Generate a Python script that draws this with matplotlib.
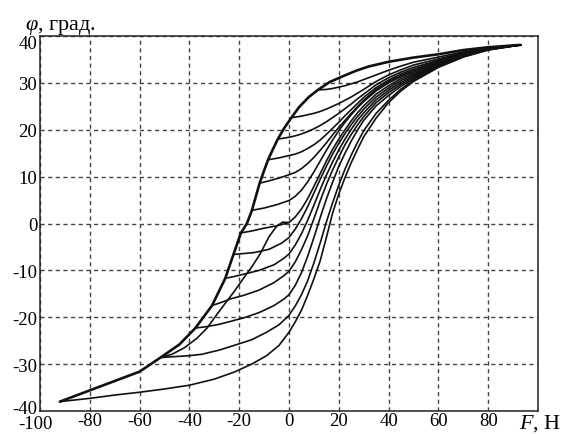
import matplotlib
matplotlib.use("Agg")
import matplotlib.pyplot as plt
from matplotlib.transforms import ScaledTranslation

plt.rcParams["font.family"] = ["Liberation Serif", "DejaVu Serif"]
plt.rcParams["mathtext.fontset"] = "custom"
plt.rcParams["mathtext.rm"] = "Liberation Serif"
plt.rcParams["mathtext.it"] = "Liberation Serif:italic"
plt.rcParams["axes.unicode_minus"] = False

# outer (descending) branch, bold
desc_x = [93, 80, 70, 60, 50, 40, 32, 27, 22, 16.4, 11.6, 8, 4, 1, -2, -4.5, -6.5, -8.4, -10.2, -11.8,
          -13.3, -14.9, -16.9, -19.3, -22.3, -25.6, -30.9, -37.6, -44, -51.6, -60, -70, -80, -92]
desc_y = [38.1, 37.6, 37.0, 36.1, 35.4, 34.5, 33.5, 32.6, 31.5, 30.2, 28.5, 27.0, 24.8, 22.6, 20.3, 18.0,
          15.8, 13.6, 11.0, 8.6, 5.8, 2.8, 0.0, -2.0, -6.6, -11.7, -17.5, -22.3, -25.8, -28.6, -31.6,
          -33.6, -35.6, -38]

# outer (ascending) branch
asc_x = [-92, -80, -70, -60, -50, -40, -30, -22, -15, -9, -4, 0, 2.5, 5, 7.5, 10, 12.5, 15, 17.5, 20,
         22.5, 25, 27.5, 30, 35, 40, 45, 50, 60, 70, 80, 93]
asc_y = [-38, -37.3, -36.6, -36.0, -35.3, -34.5, -33.2, -31.7, -30, -28.2, -26, -23.2, -21, -18.5, -15.3,
         -11.8, -8, -3, 2.2, 6.3, 9.8, 13, 15.8, 18.5, 22.5, 25.8, 28.3, 30.3, 33.3, 35.5, 37, 38.1]

# reversal curves, from the top one down
f1_x = [11.6, 15, 17.5, 20, 22.5, 25, 27.5, 30, 35, 40, 45, 50, 60, 70, 80, 93]
f1_y = [28.5, 28.6, 28.8, 29.1, 29.4, 29.8, 30.2, 30.7, 31.7, 32.7, 33.6, 34.4, 35.5, 36.6, 37.45, 38.1]

f2_x = [1, 2.5, 5, 7.5, 10, 12.5, 15, 17.5, 20, 22.5, 25, 27.5, 30, 35, 40, 45, 50, 60, 70, 80, 93]
f2_y = [22.6, 22.7, 22.9, 23.2, 23.5, 23.9, 24.4, 25.0, 25.6, 26.3, 27.0, 27.8, 28.6, 30.3, 31.7, 32.8,
        33.8, 35.1, 36.45, 37.4, 38.1]

f3_x = [-4.5, 0, 2.5, 5, 7.5, 10, 12.5, 15, 17.5, 20, 22.5, 25, 27.5, 30, 35, 40, 45, 50, 60, 70, 80, 93]
f3_y = [18.0, 18.4, 18.7, 19.1, 19.6, 20.2, 20.9, 21.7, 22.6, 23.5, 24.5, 25.5, 26.6, 27.6, 29.6, 31.1,
        32.3, 33.3, 34.8, 36.3, 37.35, 38.1]

f4_x = [-8.4, -4, 0, 2.5, 5, 7.5, 10, 12.5, 15, 17.5, 20, 22.5, 25, 27.5, 30, 35, 40, 45, 50, 60, 70, 80, 93]
f4_y = [13.6, 14.0, 14.5, 14.8, 15.3, 16.0, 16.8, 17.8, 19.0, 20.3, 21.6, 23.0, 24.3, 25.6, 26.9, 29.0,
        30.6, 31.9, 32.9, 34.6, 36.2, 37.3, 38.1]

f5_x = [-11.8, -8, -4, 0, 2.5, 5, 7.5, 10, 12.5, 15, 17.5, 20, 22.5, 25, 27.5, 30, 35, 40, 45, 50, 60, 70, 80, 93]
f5_y = [8.6, 9.1, 9.7, 10.4, 10.9, 11.7, 12.8, 14.1, 15.6, 17.2, 18.9, 20.5, 22.0, 23.5, 24.9, 26.3,
        28.6, 30.3, 31.6, 32.6, 34.4, 36.15, 37.25, 38.1]

f6_x = [-14.9, -10, -5, 0, 2.5, 5, 7.5, 10, 12.5, 15, 17.5, 20, 22.5, 25, 27.5, 30, 35, 40, 45, 50, 60, 70, 80, 93]
f6_y = [2.8, 3.3, 4.0, 4.9, 5.8, 7.1, 8.9, 11.0, 13.3, 15.6, 17.8, 19.8, 21.6, 23.2, 24.7, 26.0, 28.3,
        30.0, 31.3, 32.3, 34.2, 36.1, 37.25, 38.1]

f7_x = [-19.3, -15, -10, -5, 0, 2.5, 5, 7.5, 10, 12.5, 15, 17.5, 20, 22.5, 25, 27.5, 30, 35, 40, 45, 50, 60, 70, 80, 93]
f7_y = [-2.0, -1.6, -1.0, -0.5, 0.2, 1.4, 3.1, 5.3, 7.9, 10.6, 13.3, 15.8, 18.0, 20.0, 21.9, 23.6, 25.1,
        27.6, 29.4, 30.9, 32.0, 34.0, 36.0, 37.2, 38.1]

f8_x = [-22.3, -18, -14, -8, -3, 0, 2.5, 5, 7.5, 10, 12.5, 15, 17.5, 20, 22.5, 25, 27.5, 30, 35, 40, 45, 50, 60, 70, 80, 93]
f8_y = [-6.6, -6.4, -6.2, -5.5, -4.2, -3.0, -1.2, 1.0, 3.6, 6.5, 9.4, 12.2, 14.8, 17.1, 19.2, 21.1, 22.8,
        24.4, 27.0, 28.9, 30.5, 31.7, 33.9, 35.95, 37.2, 38.1]

f9_x = [-25.6, -22, -18, -12, -6, -2, 0, 2.5, 5, 7.5, 10, 12.5, 15, 17.5, 20, 22.5, 25, 27.5, 30, 35, 40, 45, 50, 60, 70, 80, 93]
f9_y = [-11.7, -11.3, -10.8, -10.0, -8.8, -7.4, -6.5, -4.6, -2.2, 0.7, 3.9, 7.2, 10.3, 13.1, 15.7, 18.0,
        20.1, 22.0, 23.6, 26.4, 28.4, 30.1, 31.4, 33.8, 35.9, 37.2, 38.1]

f10_x = [-30.9, -27, -23.6, -18, -12, -6, -2, 0, 2.5, 5, 7.5, 10, 12.5, 15, 17.5, 20, 22.5, 25, 27.5, 30,
         35, 40, 45, 50, 60, 70, 80, 93]
f10_y = [-17.5, -16.8, -16.1, -15.3, -14.2, -12.6, -11.1, -10.2, -8.2, -5.6, -2.6, 1.0, 4.8, 8.3, 11.4,
         14.2, 16.8, 19.0, 21.0, 22.8, 25.8, 27.9, 29.7, 31.1, 33.7, 35.8, 37.15, 38.1]

f11_x = [-37.6, -33, -28, -23.6, -18, -12, -6, -2, 0, 2.5, 5, 7.5, 10, 12.5, 15, 17.5, 20, 22.5, 25, 27.5,
         30, 35, 40, 45, 50, 60, 70, 80, 93]
f11_y = [-22.3, -22.0, -21.5, -20.9, -20.1, -19.0, -17.5, -16.1, -15.2, -13.2, -10.5, -7.0, -3.0, 1.2, 5.2,
         8.8, 12.2, 15.0, 17.6, 19.9, 22.0, 25.1, 27.3, 29.3, 30.8, 33.6, 35.7, 37.1, 38.1]

f12_x = [-51.6, -46, -40, -35, -28, -22, -15, -9, -4, 0, 2.5, 5, 7.5, 10, 12.5, 15, 17.5, 20, 22.5, 25,
         27.5, 30, 35, 40, 45, 50, 60, 70, 80, 93]
f12_y = [-28.6, -28.4, -28.2, -27.9, -27.0, -26.0, -24.8, -23.2, -21.6, -19.6, -17.6, -15.2, -12.2, -8.4,
         -4.2, 0.3, 4.4, 8.2, 11.6, 14.6, 17.3, 19.8, 23.5, 26.3, 28.7, 30.5, 33.45, 35.6, 37.05, 38.1]

# inner descending curve (hook near origin down to the cusp)
inner_x = [0, -2.5, -5, -8, -11.6, -15, -18.3, -22, -26, -29.5, -32.9, -37, -42, -47, -51.6]
inner_y = [0.2, 0.3, -0.6, -2.8, -6.5, -9.3, -11.7, -14.5, -17.3, -19.8, -22.3, -24.5, -26.5, -27.9, -28.6]

x_ticks = [-100, -80, -60, -40, -20, 0, 20, 40, 60, 80, 100]
x_labels = ["-100", "-80", "-60", "-40", "-20", "0", "20", "40", "60", "80", ""]
y_ticks = [-40, -30, -20, -10, 0, 10, 20, 30, 40]
y_labels = ["-40", "-30", "-20", "-10", "0", "10", "20", "30", "40"]

forcs = [(f1_x, f1_y), (f2_x, f2_y), (f3_x, f3_y), (f4_x, f4_y), (f5_x, f5_y), (f6_x, f6_y),
         (f7_x, f7_y), (f8_x, f8_y), (f9_x, f9_y), (f10_x, f10_y), (f11_x, f11_y), (f12_x, f12_y)]

fig = plt.figure(figsize=(5.69, 4.35), dpi=100)
ax = fig.add_axes([40 / 569, 1 - 412 / 435, 498 / 569, 375 / 435])

line_kw = dict(color="#111111", lw=1.2, solid_joinstyle="round", solid_capstyle="round")
for fx, fy in forcs:
    ax.plot(fx, fy, **line_kw)
ax.plot(inner_x, inner_y, **line_kw)
ax.plot(asc_x, asc_y, **line_kw)
ax.plot(desc_x, desc_y, color="#111111", lw=1.9, solid_joinstyle="round", solid_capstyle="round")

ax.set_xlim(-100, 100)
ax.set_ylim(-40, 40)
ax.set_xticks(x_ticks)
ax.set_xticklabels(x_labels)
ax.set_yticks(y_ticks)
ax.set_yticklabels(y_labels)
ax.tick_params(length=0, labelsize=13.5, pad=1)
ax.tick_params(axis="y", pad=2)
ax.grid(True, color="#444444", lw=1.0, ls=(0, (3, 2.5)))
for s in ax.spines.values():
    s.set_linewidth(1.1)
    s.set_color("#222222")

# nudge the corner labels the way the reference has them
ylab = ax.get_yticklabels()
ylab[-1].set_transform(ylab[-1].get_transform() + ScaledTranslation(0, -4 / 72, fig.dpi_scale_trans))
ylab[0].set_transform(ylab[0].get_transform() + ScaledTranslation(0, 3 / 72, fig.dpi_scale_trans))
xlab = ax.get_xticklabels()
xlab[0].set_transform(xlab[0].get_transform() + ScaledTranslation(-3 / 72, -2 / 72, fig.dpi_scale_trans))

fig.text(25 / 569, 1 - 30 / 435, r"$\varphi$, град.", fontsize=16, va="baseline", ha="left")
fig.text(519 / 569, 1 - 429 / 435, r"$F$, Н", fontsize=16, va="baseline", ha="left")

fig.savefig("out.png", dpi=100)
